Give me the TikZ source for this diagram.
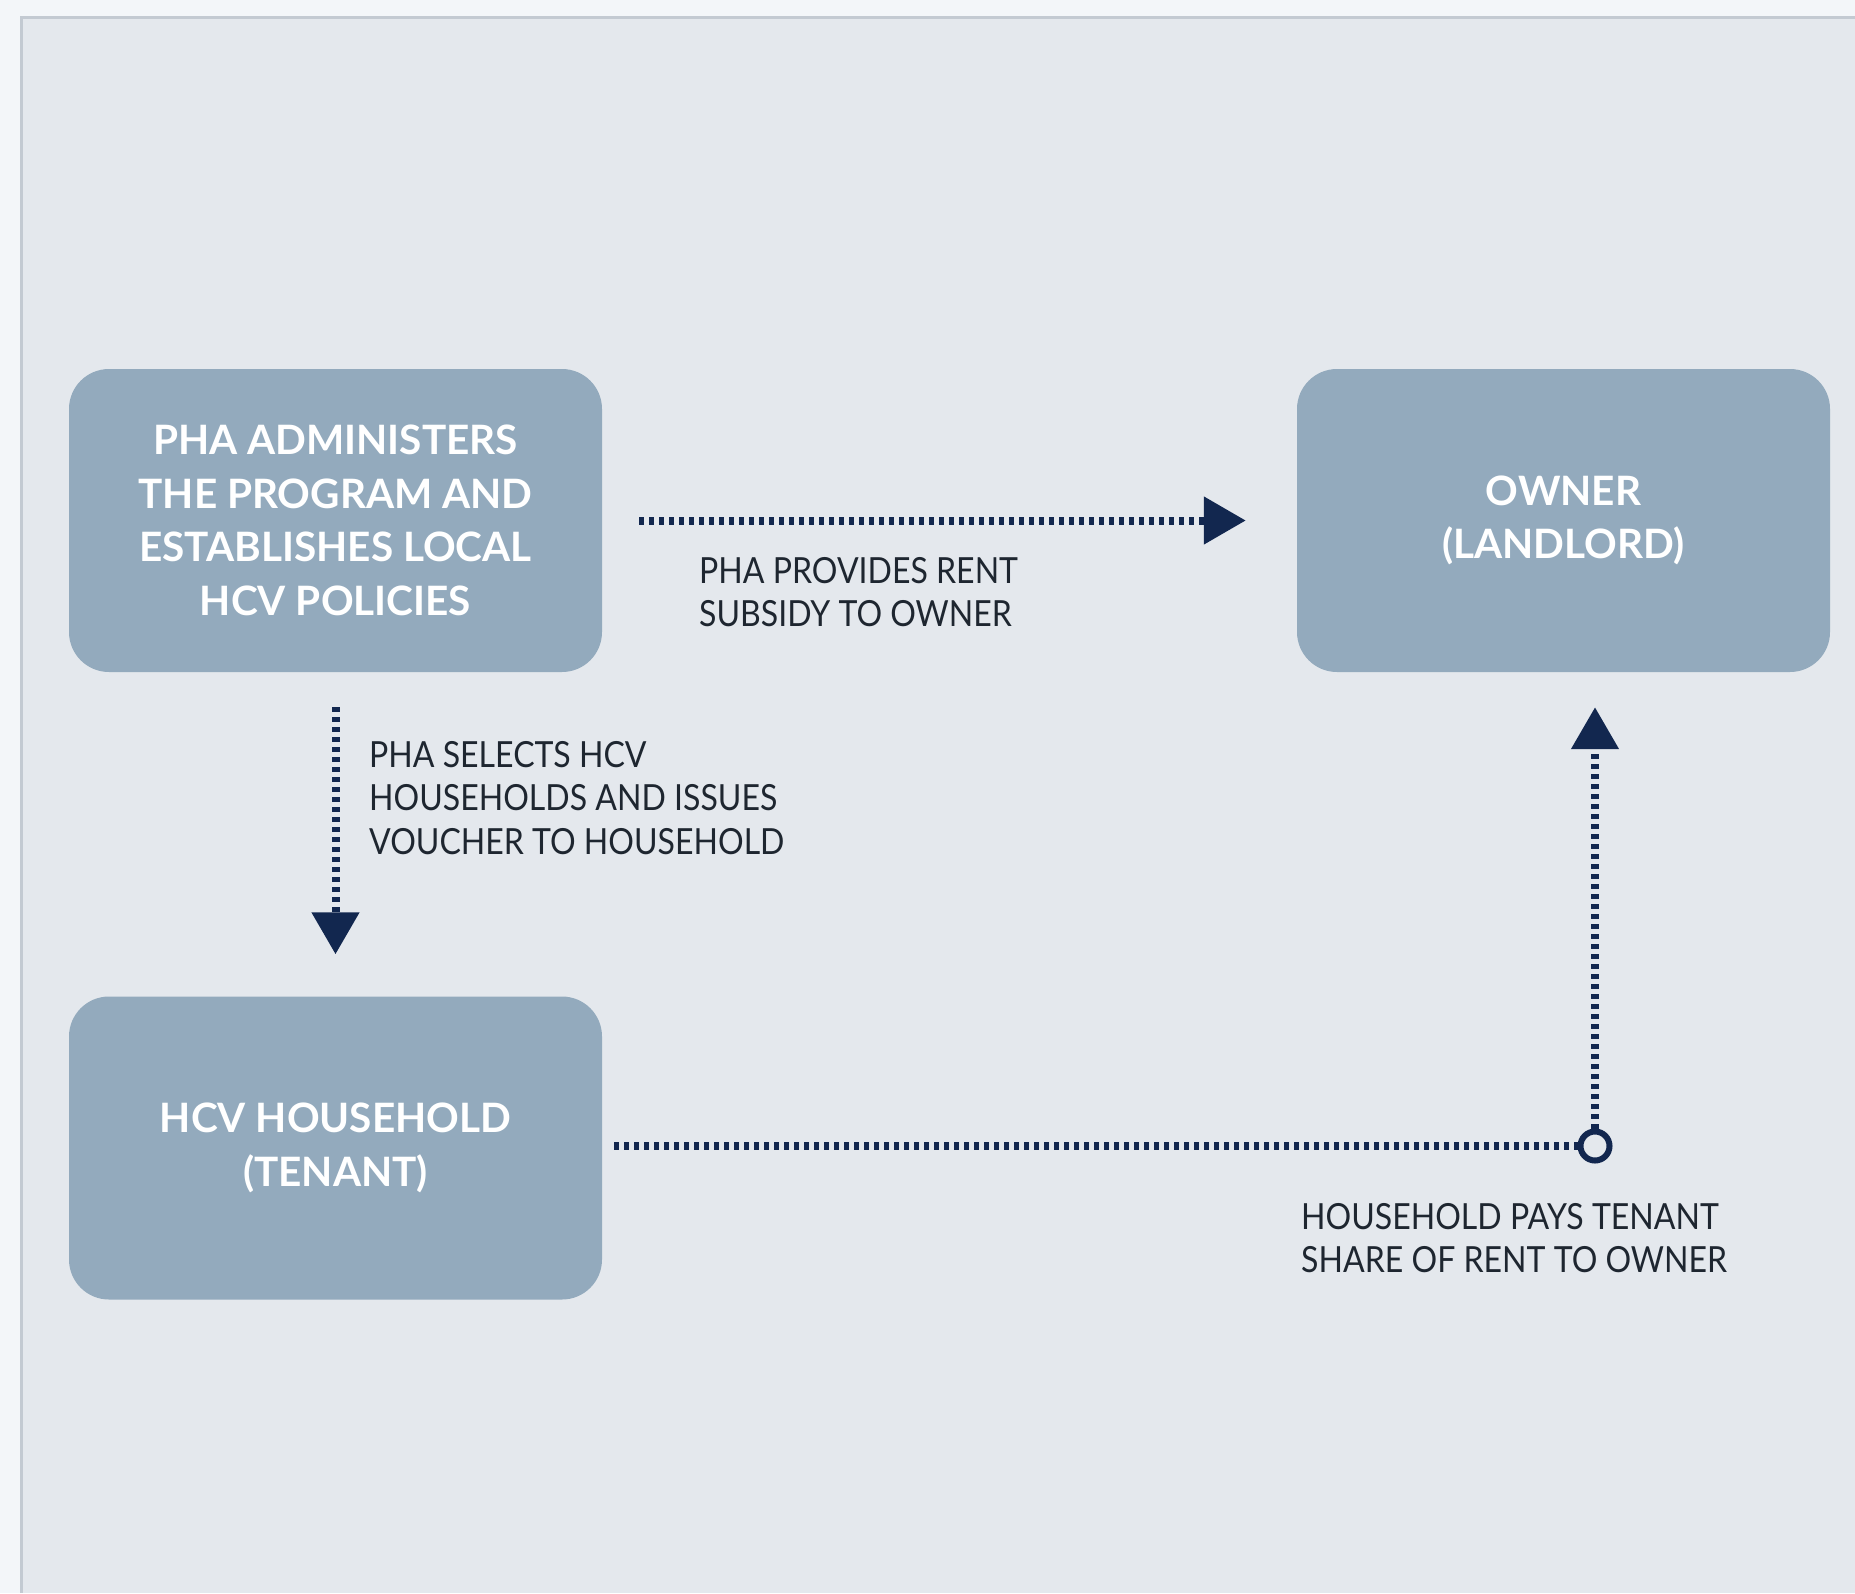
\documentclass[tikz,border=0pt]{standalone}
\usepackage{fontspec}
\setmainfont{Lato}
\newfontfamily\stagefont{Lato Bold}
\newfontfamily\notefont[FakeStretch=0.89]{Lato}
\usetikzlibrary{arrows.meta}

\definecolor{pagebg}{HTML}{F3F6F9}
\definecolor{panelbg}{HTML}{E4E8ED}
\definecolor{panelrule}{HTML}{C3CAD2}
\definecolor{boxfill}{HTML}{93AABD}
\definecolor{navy}{HTML}{12274F}
\definecolor{notetext}{HTML}{1E2630}

\tikzset{
  stage/.style={rectangle, rounded corners=40pt, fill=boxfill, draw=none,
    minimum width=533pt, minimum height=303pt, inner sep=0pt,
    text=white, align=center, font=\stagefont\fontsize{40.5}{53.5}\selectfont},
  note/.style={anchor=north west, inner sep=0pt, align=left, text=notetext,
    font=\notefont\fontsize{36}{43.5}\selectfont},
  dotline/.style={draw=navy, line width=8pt, dash pattern=on 4.5pt off 5.5pt},
  flow/.style={dotline, -{Triangle[length=42pt, width=46pt]}},
  junction/.style={circle, draw=navy, line width=6pt, fill=panelbg,
    minimum size=29pt, inner sep=0pt}
}

\begin{document}
\begin{tikzpicture}[x=1pt, y=-1pt]
  % page and panel
  \fill[pagebg] (0,0) rectangle (1855,1593);
  \useasboundingbox (0,0) rectangle (1855,1593);
  \fill[panelbg] (21,17) rectangle (1855,1593);
  \draw[panelrule, line width=3pt] (21,1593) -- (21,17) -- (1855,17);

  % parties
  \node[stage] (pha) at (335.5,520.5)
    {PHA ADMINISTERS\\THE PROGRAM AND\\ESTABLISHES LOCAL\\HCV POLICIES};
  \node[stage] (owner) at (1563.5,520.5) {OWNER\\(LANDLORD)};
  \node[stage] (household) at (335.5,1148) {HCV HOUSEHOLD\\(TENANT)};

  % subsidy to owner
  \draw[flow, shorten <=37pt, shorten >=51pt] (pha.east) -- (owner.west);
  \node[note] (subsidy) at (699,557) {PHA PROVIDES RENT\\SUBSIDY TO OWNER};

  % voucher to household
  \draw[flow, shorten <=35pt, shorten >=42pt] (pha.south) -- (household.north);
  \node[note] (voucher) at (369,741)
    {PHA SELECTS HCV\\HOUSEHOLDS AND ISSUES\\VOUCHER TO HOUSEHOLD};

  % tenant share of rent
  \node[junction] (hub) at (1595,1146) {};
  \draw[dotline, shorten <=12pt] (household.east |- hub.west) -- (hub.west);
  \draw[flow, shorten >=35pt] (hub.north) -- (hub.north |- owner.south);
  \node[note] (share) at (1301,1203)
    {HOUSEHOLD PAYS TENANT\\SHARE OF RENT TO OWNER};
\end{tikzpicture}
\end{document}
